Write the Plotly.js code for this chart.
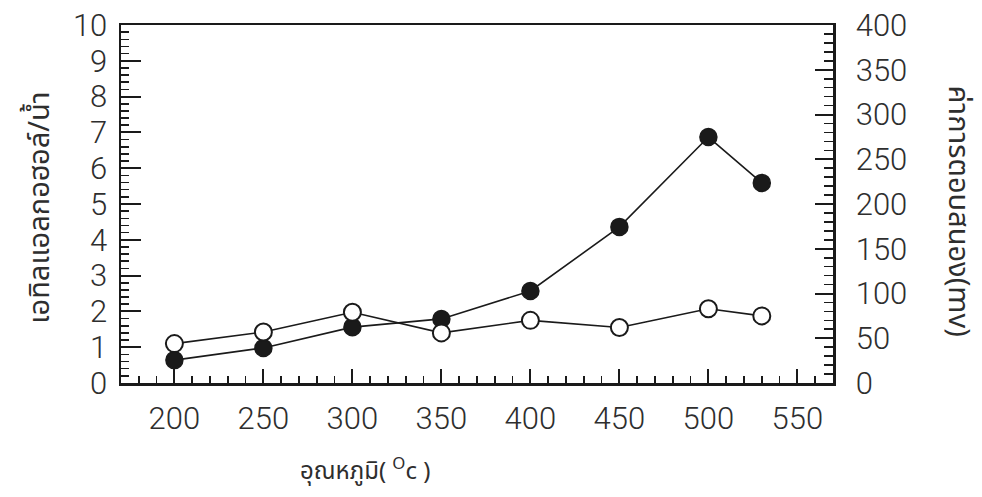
<!DOCTYPE html>
<html>
<head>
<meta charset="utf-8">
<script src="https://cdn.plot.ly/plotly-3.0.1.min.js"></script>
<style>
  html, body { margin: 0; padding: 0; background: #ffffff; }
  #chart { width: 982px; height: 497px; }
</style>
</head>
<body>
<div id="chart"></div>
<script>
// Temperature (°C) at which each sample was measured
const temperature = [200, 250, 300, 350, 400, 450, 500, 530];
// Ethyl alcohol / water ratio (left axis, filled markers)
const ethanolRatio = [0.64, 0.98, 1.56, 1.79, 2.57, 4.36, 6.87, 5.59];
// Response value in mV (right axis, open markers)
const responseMv = [44, 57, 79, 56, 70, 62, 83, 75];

const xTicks = [200, 250, 300, 350, 400, 450, 500, 550];
const leftTicks = [0, 1, 2, 3, 4, 5, 6, 7, 8, 9, 10];
const rightTicks = [0, 50, 100, 150, 200, 250, 300, 350, 400];

const numFont = { family: 'Roboto, Liberation Sans, sans-serif', size: 31, weight: 300, color: '#2e2e2e' };
const thaiFont = { family: 'Noto Sans Thai, Noto Sans, DejaVu Sans, sans-serif', size: 29, color: '#2e2e2e' };
const ink = '#1a1a1a';

const traces = [
  {
    x: temperature, y: ethanolRatio, yaxis: 'y', type: 'scatter', mode: 'lines+markers',
    line: { color: ink, width: 1.6 },
    marker: { symbol: 'circle', size: 17, color: ink, line: { color: ink, width: 1.5 } },
    cliponaxis: false, hoverinfo: 'skip'
  },
  {
    x: temperature, y: responseMv, yaxis: 'y2', type: 'scatter', mode: 'lines+markers',
    line: { color: ink, width: 1.6 },
    marker: { symbol: 'circle', size: 17, color: '#ffffff', line: { color: ink, width: 2 } },
    cliponaxis: false, hoverinfo: 'skip'
  }
];

const layout = {
  width: 982, height: 497,
  margin: { l: 121, r: 149, t: 25, b: 114 },
  paper_bgcolor: '#ffffff', plot_bgcolor: '#ffffff',
  showlegend: false,
  xaxis: {
    range: [170, 570], tickmode: 'array', tickvals: xTicks, ticktext: xTicks.map(String),
    ticks: 'inside', ticklen: 14, tickwidth: 2, tickcolor: ink,
    minor: { dtick: 10, tick0: 170, ticks: 'inside', ticklen: 7, tickwidth: 1.6, tickcolor: ink },
    showline: true, linecolor: ink, linewidth: 2.5, mirror: true,
    showgrid: false, zeroline: false, tickfont: numFont, ticklabelstandoff: 6
  },
  yaxis: {
    range: [0, 10], tickmode: 'array', tickvals: leftTicks, ticktext: leftTicks.map(String),
    ticks: 'inside', ticklen: 20, tickwidth: 2, tickcolor: ink,
    minor: { dtick: 0.2, tick0: 0, ticks: 'inside', ticklen: 8, tickwidth: 1.6, tickcolor: ink },
    showline: true, linecolor: ink, linewidth: 2.5,
    showgrid: false, zeroline: false, tickfont: numFont, ticklabelstandoff: 5
  },
  yaxis2: {
    range: [0, 400], overlaying: 'y', side: 'right',
    tickmode: 'array', tickvals: rightTicks, ticktext: rightTicks.map(String),
    ticks: 'inside', ticklen: 18, tickwidth: 2, tickcolor: ink,
    minor: { dtick: 10, tick0: 0, ticks: 'inside', ticklen: 9, tickwidth: 1.6, tickcolor: ink },
    showline: true, linecolor: ink, linewidth: 2.5,
    showgrid: false, zeroline: false, tickfont: numFont, ticklabelstandoff: 14
  },
  annotations: [
    { text: 'เอทิลแอลกอฮอล์/น้ำ', xref: 'paper', yref: 'paper', x: -0.115, y: 0.49,
      xanchor: 'center', yanchor: 'middle', textangle: -90, showarrow: false, font: thaiFont },
    { text: 'ค่าการตอบสนอง(mv)', xref: 'paper', yref: 'paper', x: 1.175, y: 0.48,
      xanchor: 'center', yanchor: 'middle', textangle: 90, showarrow: false, font: thaiFont },
    { text: 'อุณหภูมิ( <sup>O</sup>c )', xref: 'paper', yref: 'paper', x: 0.342, y: -0.245,
      xanchor: 'center', yanchor: 'middle', showarrow: false,
      font: { family: thaiFont.family, size: 24, color: '#2e2e2e' } }
  ]
};

Plotly.newPlot('chart', traces, layout, { staticPlot: true, displayModeBar: false });
</script>
</body>
</html>
